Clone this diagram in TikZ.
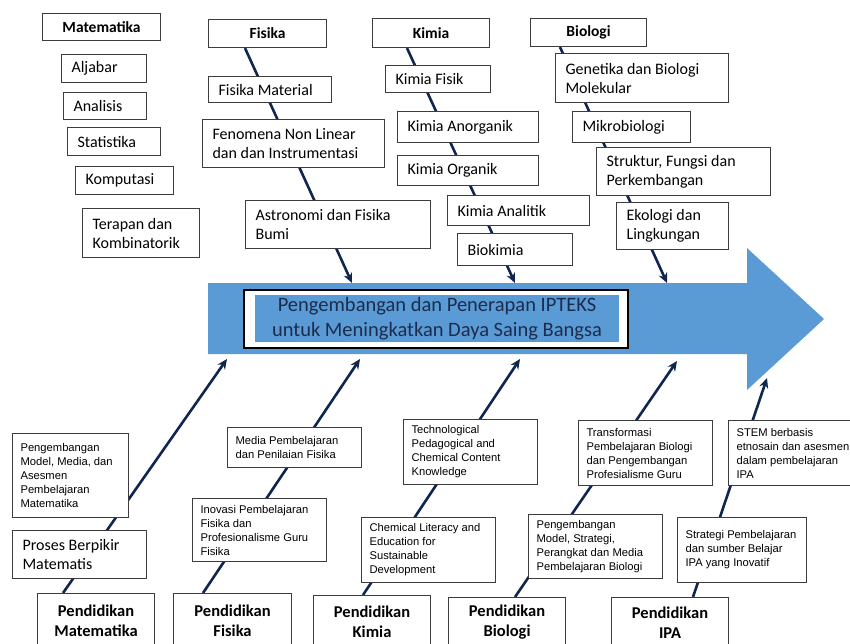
\documentclass[tikz,border=0pt]{standalone}
\usepackage{fontspec}
\setmainfont{Carlito}
\newfontfamily\arialfont{Liberation Sans}
\usetikzlibrary{arrows.meta,backgrounds,calc}
\definecolor{spinecol}{RGB}{16,38,78}
\definecolor{arrowblue}{RGB}{91,155,213}
\definecolor{boxline}{RGB}{60,60,60}
\definecolor{goaltext}{RGB}{28,44,78}
\tikzset{>={Stealth[length=10pt,width=9pt]}}
\hyphenpenalty=10000

\begin{document}
\begin{tikzpicture}[x=1pt,y=-1pt]
\tikzset{
  field/.style={draw=boxline,line width=1.1pt,fill=white,anchor=north west,
    font=\bfseries\fontsize{15.5}{18}\selectfont,inner sep=0pt,align=center},
  topic/.style={draw=boxline,line width=1.1pt,fill=white,anchor=north west,
    font=\fontsize{16}{19}\selectfont,inner xsep=10pt,inner ysep=2pt,align=flush left},
  theme/.style={draw=boxline,line width=1.1pt,fill=white,anchor=north west,
    font=\arialfont\fontsize{11.2}{14}\selectfont,inner xsep=8pt,inner ysep=3pt,align=flush left},
  dept/.style={draw=boxline,line width=1.1pt,fill=white,anchor=north west,
    font=\bfseries\fontsize{16.5}{20}\selectfont,inner sep=0pt,align=center},
  bx/.style 2 args={minimum width=#1,minimum height=#2},
  wh/.style 2 args={text width=#1,minimum height=#2}
}
\tikzstyle{bone}=[->,draw=spinecol,line width=2.6pt]

\useasboundingbox (0,0) rectangle (850,644);

\node[field,bx={118}{27}] (mat) at (42,13) {Matematika};
\node[topic,wh={65}{28}] (alj) at (61,54) {Aljabar};
\node[topic,wh={63}{27}] (ana) at (63,92) {Analisis};
\node[topic,wh={73}{28}] (sta) at (67,127) {Statistika};
\node[topic,wh={78}{28}] (kom) at (75,166) {Komputasi};
\node[topic,wh={97}{49}] (ter) at (82,208) {Terapan dan\\Kombinatorik};

\node[field,bx={118}{28}] (fis) at (208,19) {Fisika};
\node[topic,wh={103}{26}] (fmat) at (208,76) {Fisika Material};
\node[topic,wh={162}{48}] (fnl) at (202,119) {Fenomena Non Linear\\dan dan Instrumentasi};
\node[topic,wh={165}{48}] (astro) at (245,200) {Astronomi dan Fisika\\Bumi};

\node[field,bx={117}{29}] (kim) at (372,18) {Kimia};
\node[topic,wh={85}{27}] (kfis) at (385,65) {Kimia Fisik};
\node[topic,wh={121}{31}] (kanorg) at (397,111) {Kimia Anorganik};
\node[topic,wh={121}{30}] (korg) at (397,155) {Kimia Organik};
\node[topic,wh={122}{30}] (kanal) at (447,195) {Kimia Analitik};
\node[topic,wh={95}{32}] (biok) at (457,233) {Biokimia};

\node[field,bx={116}{28}] (bio) at (530,18) {Biologi};
\node[topic,wh={153}{49}] (gen) at (555,53) {Genetika dan Biologi\\Molekular};
\node[topic,wh={98}{31}] (mikro) at (572,111) {Mikrobiologi};
\node[topic,wh={154}{48}] (struk) at (596,147) {Struktur, Fungsi dan\\Perkembangan};
\node[topic,wh={92}{47}] (eko) at (616,202) {Ekologi dan\\Lingkungan};

\node[theme,wh={100}{84}] (pmmat) at (12,433) {Pengembangan\\Model, Media, dan\\Asesmen\\Pembelajaran\\Matematika};
\node[topic,wh={114}{48}] (proses) at (12,530) {Proses Berpikir\\Matematis};
\node[dept,bx={117}{54}] (pmat) at (37,593) {Pendidikan\\Matematika};

\node[theme,wh={118}{40}] (media) at (227,427) {Media Pembelajaran\\dan Penilaian Fisika};
\node[theme,wh={118}{63}] (inov) at (192,498) {Inovasi Pembelajaran\\Fisika dan\\Profesionalisme Guru\\Fisika};
\node[dept,bx={118}{54}] (pfis) at (173,593) {Pendidikan\\Fisika};

\node[theme,wh={118}{65}] (tpack) at (403,419) {Technological\\Pedagogical and\\Chemical Content\\Knowledge};
\node[theme,wh={118}{65}] (cles) at (361,517) {Chemical Literacy and\\Education for\\Sustainable\\Development};
\node[dept,bx={117}{52}] (pkim) at (313,595) {Pendidikan\\Kimia};

\node[theme,wh={118}{65}] (trans) at (578,420) {Transformasi\\Pembelajaran Biologi\\dan Pengembangan\\Profesialisme Guru};
\node[theme,wh={118}{64}] (pmbio) at (528,514) {Pengembangan\\Model, Strategi,\\Perangkat dan Media\\Pembelajaran Biologi};
\node[dept,bx={117}{50}] (pbio) at (448,597) {Pendidikan\\Biologi};

\node[theme,wh={114}{65}] (stem) at (728,420) {STEM berbasis\\etnosain dan asesmen\\dalam pembelajaran\\IPA};
\node[theme,wh={113}{65}] (strat) at (677,517) {Strategi Pembelajaran\\dan sumber Belajar\\IPA yang Inovatif};
\node[dept,bx={117}{50}] (pipa) at (611,597) {Pendidikan\\IPA};

\node[draw=black,line width=1.2pt,fill=white,minimum width=384,minimum height=58,inner sep=0pt] (goal) at (436,319) {};
\node[fill=arrowblue,minimum width=364,minimum height=47,inner sep=0pt,text=goaltext,
  font=\fontsize{20.5}{25}\selectfont,align=center] (goaltxt) at (437,318.5)
  {Pengembangan dan Penerapan IPTEKS\\untuk Meningkatkan Daya Saing Bangsa};

\coordinate (tfis) at (352,283);
\coordinate (tkim) at (515,283);
\coordinate (tbio) at (667,283);
\coordinate (bmat) at (227,359);
\coordinate (bfis) at (360,359);
\coordinate (bkim) at (520,359);
\coordinate (bbio) at (677,361);
\coordinate (bipa) at (767,378);

\begin{scope}[on background layer]
  \fill[arrowblue] (208,283) -- (747,283) -- (747,248) -- (824,319)
    -- (747,390) -- (747,354) -- (208,354) -- cycle;
  \draw[bone] ($(fis.south west)+(37,0)$) -- (tfis);
  \draw[bone] ($(kim.south west)+(35,0)$) -- (tkim);
  \draw[bone] ($(bio.south west)+(30,0)$) -- (tbio);
  \draw[bone] ($(pmat.north west)+(26,0)$) -- (bmat);
  \draw[bone] ($(pfis.north west)+(30,0)$) -- (bfis);
  \draw[bone] ($(pkim.north west)+(50,0)$) -- (bkim);
  \draw[bone] ($(pbio.north west)+(67,0)$) -- (bbio);
  \draw[bone] ($(pipa.north west)+(82,0)$) -- (bipa);
\end{scope}
\end{tikzpicture}
\end{document}
